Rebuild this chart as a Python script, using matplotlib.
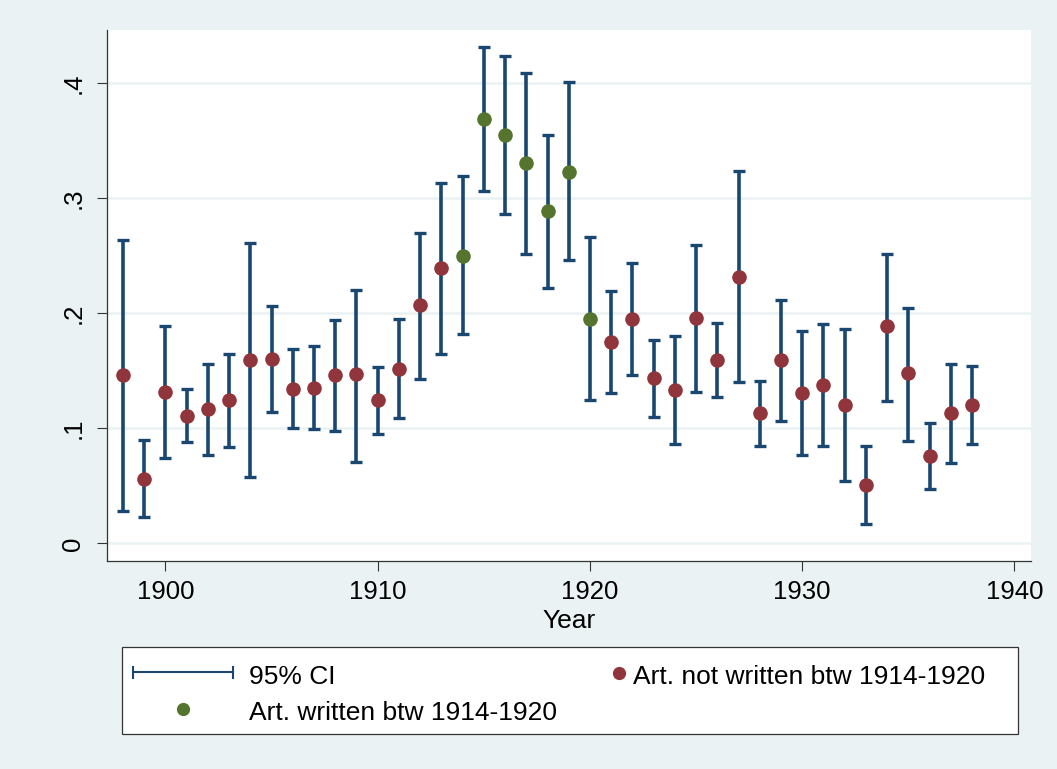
import matplotlib
matplotlib.use("Agg")
import matplotlib.pyplot as plt
from matplotlib.lines import Line2D
from matplotlib.patches import Rectangle
import numpy as np

plt.rcParams['font.family'] = ['Liberation Sans', 'DejaVu Sans']

# share of articles by year, with 95% CI
years = np.arange(1898, 1939)
est = np.array([0.146, 0.056, 0.132, 0.111, 0.117, 0.125, 0.159, 0.160, 0.134, 0.135,
                0.146, 0.147, 0.125, 0.152, 0.207, 0.239, 0.250, 0.369, 0.355, 0.331,
                0.289, 0.323, 0.195, 0.175, 0.195, 0.144, 0.133, 0.196, 0.159, 0.232,
                0.113, 0.159, 0.131, 0.138, 0.120, 0.051, 0.189, 0.148, 0.076, 0.113,
                0.120])
ci_low = np.array([0.028, 0.023, 0.074, 0.088, 0.077, 0.084, 0.058, 0.114, 0.100, 0.099,
                   0.098, 0.071, 0.095, 0.109, 0.143, 0.165, 0.182, 0.306, 0.286, 0.252,
                   0.222, 0.246, 0.125, 0.131, 0.146, 0.110, 0.086, 0.132, 0.127, 0.140,
                   0.085, 0.106, 0.077, 0.085, 0.054, 0.017, 0.124, 0.089, 0.047, 0.070,
                   0.086])
ci_high = np.array([0.264, 0.090, 0.189, 0.134, 0.156, 0.165, 0.261, 0.206, 0.169, 0.172,
                    0.194, 0.220, 0.153, 0.195, 0.270, 0.313, 0.319, 0.432, 0.424, 0.409,
                    0.355, 0.401, 0.266, 0.219, 0.244, 0.177, 0.180, 0.259, 0.192, 0.324,
                    0.141, 0.212, 0.185, 0.191, 0.186, 0.085, 0.252, 0.205, 0.105, 0.156,
                    0.154])
war_start, war_end = 1914, 1920

y_ticks = [0, 0.1, 0.2, 0.3, 0.4]
y_ticklabels = ['0', '.1', '.2', '.3', '.4']
x_ticks = [1900, 1910, 1920, 1930, 1940]

legend_labels = ['95% CI', 'Art. written btw 1914-1920', 'Art. not written btw 1914-1920']

navy = '#1A476F'
maroon = '#90353B'
green = '#55752F'
bg = '#EAF2F3'

W, H = 1057, 769
fig = plt.figure(figsize=(W / 100, H / 100), dpi=100, facecolor=bg)
ax = fig.add_axes([107.3 / W, 1 - 560.7 / H, (1031 - 107.3) / W, (560.7 - 29.5) / H])
ax.set_facecolor('white')

ax.errorbar(years, est, yerr=[est - ci_low, ci_high - est], fmt='none',
            ecolor=navy, elinewidth=2.6, capsize=4.4, capthick=2.4, zorder=2)

in_war = (years >= war_start) & (years <= war_end)
ax.plot(years[~in_war], est[~in_war], 'o', color=maroon, ms=10.5, mew=0, zorder=3)
ax.plot(years[in_war], est[in_war], 'o', color=green, ms=10.5, mew=0, zorder=3)

ax.set_xlim(1897.26, 1940.78)
ax.set_ylim(-0.0151, 0.4468)
ax.set_yticks(y_ticks)
ax.set_yticklabels(y_ticklabels)
ax.set_xticks(x_ticks)
ax.yaxis.grid(True, color=bg, lw=1.8)
ax.set_axisbelow(True)

for side in ['top', 'right']:
    ax.spines[side].set_visible(False)
for side in ['left', 'bottom']:
    ax.spines[side].set_color('#333333')
    ax.spines[side].set_linewidth(0.9)
ax.tick_params(axis='both', length=7.2, width=0.8, color='#333333',
               labelsize=18.5, labelcolor='black')
ax.tick_params(axis='x', pad=7)
ax.tick_params(axis='y', labelrotation=90, pad=8.5)
for lab in ax.get_yticklabels():
    lab.set_va('center')
ax.set_xlabel('Year', fontsize=19, labelpad=3.5)

# legend box, drawn by hand to match the Stata layout
def fx(x):
    return x / W

def fy(y):
    return 1 - y / H

fig.add_artist(Rectangle((fx(121.7), fy(734)), fx(1018) - fx(121.7), fy(647.3) - fy(734),
                         transform=fig.transFigure, facecolor='white',
                         edgecolor='#333333', lw=0.9))
# CI key
fig.add_artist(Line2D([fx(133), fx(233)], [fy(672.3), fy(672.3)], transform=fig.transFigure,
                      color=navy, lw=1.5))
for xc in [133, 233]:
    fig.add_artist(Line2D([fx(xc), fx(xc)], [fy(666.7), fy(677.7)],
                          transform=fig.transFigure, color=navy, lw=1.5))
fig.add_artist(Line2D([fx(183.3)], [fy(709.3)], transform=fig.transFigure, marker='o',
                      ls='none', color=green, ms=9.5, mew=0))
fig.add_artist(Line2D([fx(619)], [fy(672.5)], transform=fig.transFigure, marker='o',
                      ls='none', color=maroon, ms=9.5, mew=0))
fig.text(fx(249), fy(683.5), legend_labels[0], fontsize=19, va='baseline')
fig.text(fx(249), fy(720), legend_labels[1], fontsize=19, va='baseline')
fig.text(fx(633), fy(683.5), legend_labels[2], fontsize=19, va='baseline')

fig.savefig('out.png', dpi=100, facecolor=bg)
